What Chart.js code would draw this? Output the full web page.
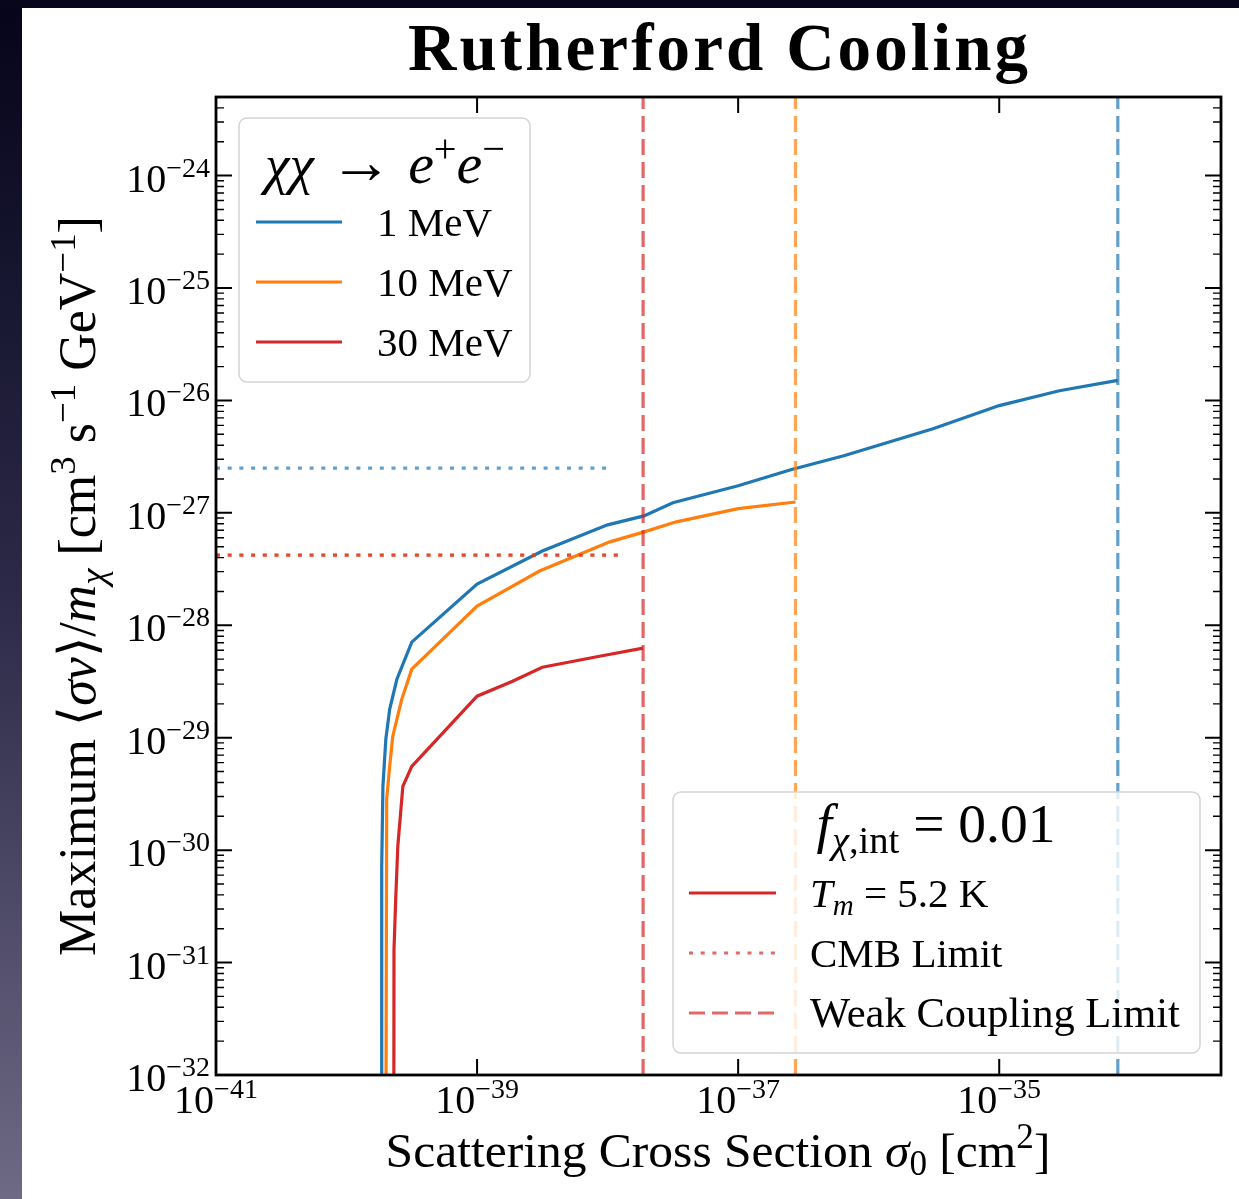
<!DOCTYPE html>
<html lang="en">
<head>
<meta charset="UTF-8">
<title>Rutherford Cooling</title>
<script src="https://cdn.jsdelivr.net/npm/chart.js"></script>
<style>
  html, body { margin: 0; padding: 0; background: #fff; }
  #chart { display: block; }
</style>
</head>
<body>
<canvas id="chart" width="1239" height="1199"></canvas>
<script>
// values: sigma_0 [cm^2] vs max <sigma v>/m_chi [cm^3 s^-1 GeV^-1]
const sigma1MeV = [1.85e-40, 1.86e-40, 1.90e-40, 2.00e-40, 2.14e-40, 2.43e-40, 3.16e-40, 1.0e-39, 3.16e-39, 1.0e-38, 1.9e-38, 3.16e-38, 1.0e-37, 2.53e-37, 6.45e-37, 3.11e-36, 1.0e-35, 2.89e-35, 8.1e-35];
const rate1MeV  = [1e-33, 7.14e-31, 3.69e-30, 9.7e-30, 1.79e-29, 3.31e-29, 7.08e-29, 2.33e-28, 4.58e-28, 7.82e-28, 9.4e-28, 1.23e-27, 1.74e-27, 2.42e-27, 3.22e-27, 5.61e-27, 9.0e-27, 1.22e-26, 1.51e-26];

const sigma10MeV = [2.00e-40, 2.03e-40, 2.14e-40, 2.26e-40, 2.65e-40, 3.16e-40, 1.0e-39, 3.01e-39, 1.04e-38, 1.91e-38, 3.36e-38, 1.0e-37, 2.75e-37];
const rate10MeV  = [1e-33, 2.83e-30, 5.56e-30, 1.03e-29, 2.20e-29, 4.07e-29, 1.48e-28, 3.04e-28, 5.52e-28, 6.78e-28, 8.32e-28, 1.09e-27, 1.25e-27];

const sigma30MeV = [2.30e-40, 2.31e-40, 2.38e-40, 2.47e-40, 2.70e-40, 3.16e-40, 1.0e-39, 1.87e-39, 3.16e-39, 8.67e-39, 1.87e-38];
const rate30MeV  = [1e-33, 1.30e-31, 3.63e-31, 1.08e-30, 3.69e-30, 5.56e-30, 2.34e-29, 3.18e-29, 4.23e-29, 5.31e-29, 6.26e-29];

const masses = ['1 MeV', '10 MeV', '30 MeV'];
const cmbLimit = [2.5e-27, 4.2e-28, 4.2e-28];     // CMB limit per mass
const cmbEnd = [1.09e-38, 1.2e-38, 1.35e-38];     // where the dotted lines stop
const weakLimit = [8.1e-35, 2.75e-37, 1.87e-38];  // weak coupling limit per mass

const xTickExp = [-41, -39, -37, -35];
const yTickExp = [-32, -31, -30, -29, -28, -27, -26, -25, -24];

const colors = ['#1f77b4', '#ff7f0e', '#d62728'];
const faded = ['rgba(31,119,180,0.7)', 'rgba(255,127,14,0.7)', 'rgba(214,39,40,0.7)'];

const SERIF = '"Liberation Serif", "DejaVu Serif", serif';
const DASH = [16, 7];
const DOT = [4, 7.7];

function pts(xs, ys) { return xs.map((x, i) => ({ x: x, y: ys[i] })); }

const curves = [[sigma1MeV, rate1MeV], [sigma10MeV, rate10MeV], [sigma30MeV, rate30MeV]];
const datasets = [];
curves.forEach((c, i) => {
  datasets.push({ label: masses[i], data: pts(c[0], c[1]), showLine: true, borderColor: colors[i],
    borderWidth: 3.2, pointRadius: 0, clip: 0, order: 3 });
  // lower order is drawn later, so the 30 MeV dots sit on top of the 10 MeV ones
  datasets.push({ label: 'CMB ' + masses[i], data: [{ x: 1e-41, y: cmbLimit[i] }, { x: cmbEnd[i], y: cmbLimit[i] }],
    showLine: true, borderColor: faded[i], borderWidth: 3.2, borderDash: DOT, borderCapStyle: 'butt',
    pointRadius: 0, clip: 0, order: 2 - i * 0.1 });
  datasets.push({ label: 'Weak ' + masses[i], data: [{ x: weakLimit[i], y: 1e-32 }, { x: weakLimit[i], y: 5e-24 }],
    showLine: true, borderColor: faded[i], borderWidth: 3.2, borderDash: DASH, borderCapStyle: 'butt',
    pointRadius: 0, clip: 0, order: 1 });
});

// text with italic / sub / superscript pieces: [text, size, style, dy]
function richWidth(c, parts, k) {
  let w = 0;
  parts.forEach(p => { c.font = (p[2] || '') + ' ' + p[1] * k + 'px ' + SERIF; w += c.measureText(p[0]).width; });
  return w;
}
function drawRich(c, parts, x, y, align, target) {
  const k = target ? target / richWidth(c, parts, 1) : 1;
  const w = richWidth(c, parts, k);
  let cx = align === 'center' ? x - w / 2 : align === 'right' ? x - w : x;
  c.textAlign = 'left';
  c.textBaseline = 'alphabetic';
  c.fillStyle = '#000';
  parts.forEach(p => {
    c.font = (p[2] || '') + ' ' + p[1] * k + 'px ' + SERIF;
    c.fillText(p[0], cx, y + (p[3] || 0) * k);
    cx += c.measureText(p[0]).width;
  });
}

// same text, spread out with letter spacing to a given width (the original font is wider)
function drawSpread(c, text, font, cx, y, target) {
  c.save();
  c.font = font;
  const w = c.measureText(text).width;
  const sp = (target - w) / (text.length - 1);
  c.letterSpacing = sp + 'px';
  c.textAlign = 'left';
  c.textBaseline = 'alphabetic';
  c.fillStyle = '#000';
  c.fillText(text, cx - target / 2, y);
  c.restore();
}

function sample(c, x0, x1, y, color, dash) {
  c.save();
  c.strokeStyle = color;
  c.lineWidth = 3.2;
  c.lineCap = 'butt';
  c.setLineDash(dash || []);
  c.beginPath(); c.moveTo(x0, y); c.lineTo(x1, y); c.stroke();
  c.restore();
}

function legendBox(c, x0, y0, x1, y1) {
  c.save();
  c.beginPath();
  c.roundRect(x0, y0, x1 - x0, y1 - y0, 8);
  c.fillStyle = 'rgba(255,255,255,0.8)';
  c.fill();
  c.strokeStyle = '#d4d4d4';
  c.lineWidth = 1.5;
  c.stroke();
  c.restore();
}

const backdrop = {
  id: 'backdrop',
  beforeDraw(chart) {
    const c = chart.ctx, W = chart.width, H = chart.height;
    c.save();
    c.fillStyle = '#fff';
    c.fillRect(0, 0, W, H);
    const g = c.createLinearGradient(0, 0, 0, H);
    g.addColorStop(0, '#05041a');
    g.addColorStop(0.5, '#2c2a48');
    g.addColorStop(1, '#6e6985');
    c.fillStyle = g;
    c.fillRect(0, 0, 22, H);
    c.fillStyle = '#07061b';
    c.fillRect(0, 0, W, 8);
    c.restore();
  }
};

const decorations = {
  id: 'decorations',
  afterDatasetsDraw(chart) {
    const c = chart.ctx, a = chart.chartArea;
    const xs = chart.scales.x, ys = chart.scales.y;
    c.save();

    // frame
    c.strokeStyle = '#000';
    c.lineWidth = 2.8;
    c.strokeRect(a.left, a.top, a.right - a.left, a.bottom - a.top);

    // inward ticks
    c.lineWidth = 2;
    yTickExp.forEach(e => {
      const y = ys.getPixelForValue(Math.pow(10, e));
      c.beginPath();
      c.moveTo(a.left, y); c.lineTo(a.left + 16, y);
      c.moveTo(a.right, y); c.lineTo(a.right - 16, y);
      c.stroke();
      drawRich(c, [['10', 40], ['\u2212' + (-e), 28, '', -15]], a.left - 6, y + 16, 'right');
      c.lineWidth = 1.4;
      for (let m = 2; m <= 9; m++) {
        const v = m * Math.pow(10, e);
        if (v > ys.max) break;
        const ym = ys.getPixelForValue(v);
        c.beginPath();
        c.moveTo(a.left, ym); c.lineTo(a.left + 8, ym);
        c.moveTo(a.right, ym); c.lineTo(a.right - 8, ym);
        c.stroke();
      }
      c.lineWidth = 2;
    });
    xTickExp.forEach(e => {
      const x = xs.getPixelForValue(Math.pow(10, e));
      c.beginPath();
      c.moveTo(x, a.bottom); c.lineTo(x, a.bottom - 16);
      c.moveTo(x, a.top); c.lineTo(x, a.top + 16);
      c.stroke();
      drawRich(c, [['10', 40], ['\u2212' + (-e), 28, '', -15]], x, a.bottom + 38, 'center');
    });

    // title and axis titles
    drawSpread(c, 'Rutherford Cooling', 'bold 67px ' + SERIF, 718, 70, 620);
    drawRich(c, [['Scattering Cross Section ', 48], ['\u03c3', 48, 'italic'], ['0', 34, '', 8],
      [' [cm', 48], ['2', 34, '', -18], [']', 48]], 718, 1167, 'center', 665);
    c.save();
    c.translate(95, 586);
    c.rotate(-Math.PI / 2);
    drawRich(c, [['Maximum ', 48], ['\u27e8', 48], ['\u03c3v', 48, 'italic'], ['\u27e9/', 48], ['m', 48, 'italic'],
      ['\u03c7', 34, 'italic', 9], [' [cm', 48], ['3', 34, '', -18], [' s', 48], ['\u22121', 34, '', -18],
      [' GeV', 48], ['\u22121', 34, '', -18], [']', 48]], 0, 0, 'center', 740);
    c.restore();

    // legend: masses
    legendBox(c, 239, 118, 530, 382);
    drawRich(c, [['\u03c7\u03c7', 44, 'italic'], [' \u2192 ', 50], ['e', 46, 'italic'], ['+', 32, '', -17],
      ['e', 46, 'italic'], ['\u2212', 32, '', -17]], 385, 183, 'center', 240);
    masses.forEach((m, i) => {
      const y = 222 + i * 60;
      sample(c, 256, 342, y, colors[i]);
      drawRich(c, [[m, 41]], 377, y + 14, 'left');
    });

    // legend: line styles
    legendBox(c, 673, 792, 1200, 1053);
    drawRich(c, [['f', 46, 'italic'], ['\u03c7', 32, 'italic', 9], [',int', 32, '', 9], [' = 0.01', 46]], 936, 842, 'center', 239);
    sample(c, 689, 776, 893, colors[2]);
    drawRich(c, [['T', 41, 'italic'], ['m', 29, 'italic', 8], [' = 5.2 K', 41]], 810, 907, 'left');
    sample(c, 689, 776, 953, faded[2], DOT);
    drawRich(c, [['CMB Limit', 41]], 810, 967, 'left');
    sample(c, 689, 776, 1013, faded[2], DASH);
    drawRich(c, [['Weak Coupling Limit', 41]], 810, 1027, 'left', 370);

    c.restore();
  }
};

new Chart(document.getElementById('chart').getContext('2d'), {
  type: 'scatter',
  data: { datasets: datasets },
  options: {
    responsive: false,
    animation: false,
    layout: { padding: { left: 216, right: 18, top: 97, bottom: 124 } },
    plugins: { legend: { display: false }, tooltip: { enabled: false }, title: { display: false } },
    scales: {
      x: { type: 'logarithmic', min: 1e-41, max: 5e-34,
        grid: { display: false }, ticks: { display: false }, border: { display: false },
        afterFit(s) { s.height = 0; } },
      y: { type: 'logarithmic', min: 1e-32, max: 5e-24,
        grid: { display: false }, ticks: { display: false }, border: { display: false },
        afterFit(s) { s.width = 0; } }
    }
  },
  plugins: [backdrop, decorations]
});
</script>
</body>
</html>
